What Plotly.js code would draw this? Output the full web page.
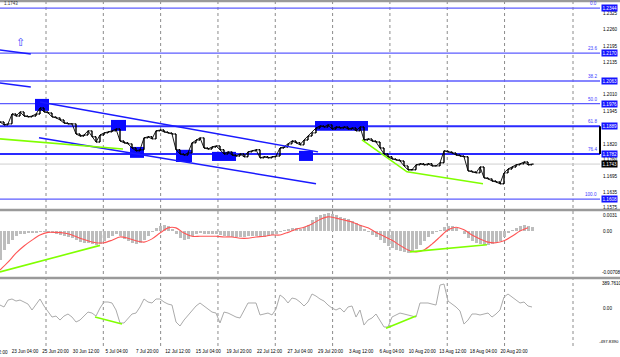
<!DOCTYPE html>
<html><head><meta charset="utf-8">
<script src="https://cdn.plot.ly/plotly-3.0.1.min.js"></script>
<style>html,body{margin:0;padding:0;background:#fff;overflow:hidden}#chart{width:620px;height:357px}</style>
</head><body><div id="chart"></div>
<script>
// ---- data (H4 bars sampled, index = candle number) ----
const closes = [1.1905,1.1894,1.1898,1.1936,1.1928,1.1944,1.1928,1.1925,1.1928,1.1936,
 1.1959,1.1944,1.1940,1.1925,1.1921,1.1913,1.1901,1.1898,1.1898,1.1859,
 1.1851,1.1855,1.1871,1.1848,1.1828,1.1855,1.1863,1.1867,1.1871,1.1878,
 1.1832,1.1825,1.1821,1.1805,1.1794,1.1798,1.1844,1.1848,1.1840,1.1871,
 1.1874,1.1867,1.1863,1.1859,1.1798,1.1782,1.1778,1.1786,1.1825,1.1836,
 1.1844,1.1805,1.1801,1.1809,1.1813,1.1798,1.1782,1.1790,1.1778,1.1774,
 1.1782,1.1771,1.1790,1.1794,1.1798,1.1767,1.1771,1.1767,1.1771,1.1774,
 1.1805,1.1809,1.1821,1.1832,1.1825,1.1817,1.1836,1.1851,1.1863,1.1882,
 1.1890,1.1886,1.1894,1.1878,1.1886,1.1882,1.1886,1.1878,1.1882,1.1871,
 1.1886,1.1836,1.1840,1.1832,1.1828,1.1805,1.1782,1.1771,1.1763,1.1759,
 1.1755,1.1736,1.1721,1.1721,1.1740,1.1744,1.1740,1.1744,1.1736,1.1736,
 1.1748,1.1794,1.1790,1.1786,1.1778,1.1774,1.1771,1.1717,1.1713,1.1709,
 1.1732,1.1690,1.1686,1.1678,1.1674,1.1667,1.1709,1.1724,1.1732,1.1740,
 1.1744,1.1751,1.1740,1.1743];

const macdHist = [-0.0045,-0.0029,-0.0020,-0.0014,-0.0008,-0.0005,-0.0005,-0.0003,-0.0003,-0.0003,
 -0.0002,-0.0002,-0.0002,-0.0003,-0.0005,-0.0006,-0.0008,-0.0009,-0.0011,-0.0014,
 -0.0017,-0.0018,-0.0018,-0.0020,-0.0022,-0.0020,-0.0015,-0.0011,-0.0008,-0.0005,
 -0.0008,-0.0012,-0.0015,-0.0018,-0.0020,-0.0018,-0.0014,-0.0008,-0.0002,0.0005,
 0.0008,0.0009,0.0008,0.0003,-0.0005,-0.0011,-0.0014,-0.0012,-0.0008,-0.0005,
 -0.0003,-0.0005,-0.0005,-0.0005,-0.0005,-0.0006,-0.0008,-0.0008,-0.0009,-0.0009,
 -0.0009,-0.0009,-0.0008,-0.0008,-0.0008,-0.0009,-0.0009,-0.0008,-0.0006,-0.0005,
 -0.0002,0.0002,0.0003,0.0005,0.0005,0.0003,0.0006,0.0009,0.0017,0.0022,
 0.0025,0.0026,0.0028,0.0026,0.0025,0.0022,0.0020,0.0018,0.0015,0.0012,
 0.0009,0.0003,-0.0002,-0.0006,-0.0009,-0.0014,-0.0018,-0.0023,-0.0026,-0.0029,
 -0.0031,-0.0032,-0.0034,-0.0032,-0.0028,-0.0022,-0.0015,-0.0009,-0.0005,-0.0002,
 0.0002,0.0006,0.0008,0.0008,0.0005,0.0000,-0.0005,-0.0011,-0.0015,-0.0018,
 -0.0020,-0.0022,-0.0022,-0.0020,-0.0018,-0.0015,-0.0009,-0.0003,0.0002,0.0005,
 0.0008,0.0009,0.0008,0.0006];

// signal line, one value every second candle
const macdSignal = [-0.0060,-0.0048,-0.0034,-0.0023,-0.0014,-0.0006,-0.0002,-0.0002,-0.0003,-0.0006,
 -0.0011,-0.0015,-0.0018,-0.0018,-0.0014,-0.0009,-0.0011,-0.0015,-0.0017,-0.0012,
 -0.0003,0.0005,0.0005,-0.0003,-0.0008,-0.0008,-0.0008,-0.0008,-0.0009,-0.0009,
 -0.0011,-0.0011,-0.0009,-0.0008,-0.0006,-0.0006,-0.0002,0.0003,0.0006,0.0011,
 0.0018,0.0022,0.0020,0.0017,0.0014,0.0009,0.0005,-0.0002,-0.0008,-0.0014,
 -0.0022,-0.0029,-0.0032,-0.0029,-0.0020,-0.0009,0.0002,0.0006,0.0002,-0.0006,
 -0.0012,-0.0017,-0.0018,-0.0015,-0.0008,0.0000,0.0005];

const cci = [45,19,111,125,98,111,85,58,-21,58,
 125,32,-48,-114,-101,-154,-101,-74,-114,-180,
 -154,-101,-48,-61,-101,5,85,85,72,-21,
 -193,-193,-127,-74,-61,19,125,85,72,125,
 125,85,58,45,-180,-233,-154,-87,-21,32,
 72,32,-8,-48,-61,-193,-48,-61,-87,-114,
 -127,-21,72,72,72,-87,-74,-61,-87,-8,
 178,138,72,138,125,85,32,85,191,164,
 125,98,45,5,-21,5,-48,19,32,-114,
 -21,-220,-154,-127,-74,-154,-246,-246,-114,-87,
 -61,-74,-87,-101,-114,72,72,72,58,45,
 310,323,98,58,19,-34,-207,-154,-74,-74,
 -87,-74,-61,-114,-74,-21,151,191,151,111,
 72,85,32,19];

const timeLabels = ["23 Jun 04:00","25 Jun 20:00","30 Jun 12:00","5 Jul 04:00","7 Jul 20:00","12 Jul 12:00",
 "15 Jul 04:00","19 Jul 20:00","22 Jul 12:00","27 Jul 04:00","29 Jul 20:00","3 Aug 12:00","6 Aug 04:00",
 "10 Aug 20:00","13 Aug 12:00","18 Aug 04:00","20 Aug 20:00"];
const cutLabel = "18 Jun 12:00";

const fibLevels = ["0.0","23.6","38.2","50.0","61.8","76.4","100.0"];
const fibPrices = [1.2344,1.2170,1.2063,1.1976,1.1889,1.1782,1.1608];
const priceTicks = [1.2325,1.2260,1.2195,1.2135,1.2065,1.2010,1.1945,1.1885,1.1820,1.1760,1.1695,1.1635,1.1575];
const lastPrice = 1.1743;
const macdMax = 0.0031, macdMin = -0.00708;
const cciMax = 389.7610, cciMin = -497.8390;

// rectangles (candle index / price)
const zoneStart = [8.75,27.75,32.5,44,53,74.75,78.75];
const zoneEnd   = [12.25,31.5,36,48,59,78.25,92];
const zoneLow   = [1.1948,1.1871,1.1767,1.1751,1.1755,1.1755,1.1871];
const zoneHigh  = [1.1994,1.1913,1.1809,1.1798,1.1790,1.1794,1.1909];

// trend lines
const chanUpX = [10,79.5], chanUpY = [1.1982,1.1790];
const chanLoX = [9.75,79], chanLoY = [1.1844,1.1667];
const oldAX = [-1,7.7], oldAY = [1.2184,1.2167];
const oldBX = [-1,7.7], oldBY = [1.2057,1.2040];
const greenP1X = [0,30.75], greenP1Y = [1.1840,1.1801];
const greenP2X = [90.5,101.75,120.75], greenP2Y = [1.1836,1.1713,1.1667];
const greenM1X = [0,25], greenM1Y = [-0.0063,-0.0022];
const greenM2X = [102.5,121.75], greenM2Y = [-0.0032,-0.0021];
const greenC1X = [23.75,30.5], greenC1Y = [-114,-207];
const greenC2X = [96.5,104], greenC2Y = [-262,-101];
const arrowX = 5.1, arrowY = 1.2213;

// ---- build ----
const idx = closes.map((_, i) => i);
const opens = closes.map((c, i) => i === 0 ? c : closes[i-1]);
const highs = closes.map((c, i) => Math.max(c, opens[i]));
const lows = closes.map((c, i) => Math.min(c, opens[i]));
const sigX = macdSignal.map((_, k) => 2*k);

const xRange = [0, 150];
const tickStart = 6.25, tickStep = 7.64;
const tickVals = timeLabels.map((_, k) => tickStart + k*tickStep);
const gridVals = [];
for (let k = 0; k < 9; k++) gridVals.push(11.5 + k*14.33);
gridVals.push(143.25);

const BLUE = '#1a1aff', GREEN = '#80ff00';
const traces = [
 {type:'scatter', mode:'lines', x:idx, y:closes, line:{color:'#000', width:0.9}, xaxis:'x', yaxis:'y', hoverinfo:'skip'},
 {type:'ohlc', x:idx, open:opens, high:highs, low:lows, close:closes, xaxis:'x', yaxis:'y',
  increasing:{line:{color:'#000', width:1.4}}, decreasing:{line:{color:'#000', width:1.4}}, tickwidth:0.4, hoverinfo:'skip'},
 {type:'scatter', mode:'lines', x:chanUpX, y:chanUpY, line:{color:BLUE, width:1.5}, xaxis:'x', yaxis:'y'},
 {type:'scatter', mode:'lines', x:chanLoX, y:chanLoY, line:{color:BLUE, width:1.5}, xaxis:'x', yaxis:'y'},
 {type:'scatter', mode:'lines', x:oldAX, y:oldAY, line:{color:BLUE, width:1.5}, xaxis:'x', yaxis:'y'},
 {type:'scatter', mode:'lines', x:oldBX, y:oldBY, line:{color:BLUE, width:1.5}, xaxis:'x', yaxis:'y'},
 {type:'scatter', mode:'lines', x:greenP1X, y:greenP1Y, line:{color:GREEN, width:1.6}, xaxis:'x', yaxis:'y'},
 {type:'scatter', mode:'lines', x:greenP2X, y:greenP2Y, line:{color:GREEN, width:1.6}, xaxis:'x', yaxis:'y'},
 {type:'bar', x:idx, y:macdHist, width:0.75, marker:{color:'#bdbdbd', line:{width:0}}, xaxis:'x2', yaxis:'y2'},
 {type:'scatter', mode:'lines', x:sigX, y:macdSignal, line:{color:'#ff5555', width:1.1, shape:'spline', smoothing:0.8}, xaxis:'x2', yaxis:'y2'},
 {type:'scatter', mode:'lines', x:greenM1X, y:greenM1Y, line:{color:GREEN, width:1.6}, xaxis:'x2', yaxis:'y2'},
 {type:'scatter', mode:'lines', x:greenM2X, y:greenM2Y, line:{color:GREEN, width:1.6}, xaxis:'x2', yaxis:'y2'},
 {type:'scatter', mode:'lines', x:idx, y:cci, line:{color:'#ababab', width:1}, xaxis:'x3', yaxis:'y3'},
 {type:'scatter', mode:'lines', x:greenC1X, y:greenC1Y, line:{color:GREEN, width:1.6}, xaxis:'x3', yaxis:'y3'},
 {type:'scatter', mode:'lines', x:greenC2X, y:greenC2Y, line:{color:GREEN, width:1.6}, xaxis:'x3', yaxis:'y3'}
];

const shapes = [];
gridVals.forEach(v => shapes.push({type:'line', xref:'x', yref:'paper', x0:v, x1:v, y0:0, y1:0.997,
  line:{color:'#8c8c8c', width:1, dash:'dot'}, layer:'below'}));
zoneStart.forEach((s, i) => shapes.push({type:'rect', xref:'x', yref:'y', x0:s, x1:zoneEnd[i], y0:zoneLow[i], y1:zoneHigh[i],
  fillcolor:'#0a0aff', line:{width:0}, layer:'below'}));
fibPrices.forEach((p, i) => {
  const strong = (i === 4 || i === 5);
  shapes.push({type:'line', xref:'paper', yref:'y', x0:0, x1:1, y0:p, y1:p,
    line:{color: strong ? '#2a2aff' : '#5c5cff', width: strong ? 2 : 1.3}, layer:'below'});
});
shapes.push({type:'line', xref:'paper', yref:'y', x0:0, x1:1, y0:lastPrice, y1:lastPrice, line:{color:'#cfcfcf', width:1}, layer:'below'});
shapes.push({type:'line', xref:'paper', yref:'y', x0:1, x1:1, y0:fibPrices[5], y1:fibPrices[4], line:{color:'#000', width:2}});
[0.997, 0.3931, 0.1965].forEach(y => shapes.push({type:'line', xref:'paper', yref:'paper', x0:0, x1:1.04, y0:y, y1:y,
  line:{color:'#9a9a9a', width:2.5}}));

const F = 'Liberation Sans, Arial, sans-serif';
const SZ = 4.6;
const annotations = [];
fibPrices.forEach((p, i) => {
  annotations.push({xref:'paper', yref:'y', x:0.998, y:p, xanchor:'right', yanchor:'bottom', text:fibLevels[i],
    showarrow:false, font:{family:F, size:SZ, color:'#3c3cff'}});
  annotations.push({xref:'paper', yref:'y', x:1, y:p, xanchor:'left', yanchor:'middle', xshift:1, text:p.toFixed(4),
    showarrow:false, bgcolor:'#1414ff', borderpad:0.5, font:{family:F, size:SZ, color:'#fff'}});
});
annotations.push({xref:'paper', yref:'y', x:1, y:lastPrice, xanchor:'left', yanchor:'middle', xshift:1, text:lastPrice.toFixed(4),
  showarrow:false, bgcolor:'#000', borderpad:0.5, font:{family:F, size:SZ, color:'#fff'}});
annotations.push({xref:'paper', yref:'y2', x:1, y:macdMax, xanchor:'left', yanchor:'top', xshift:1, text:String(macdMax),
  showarrow:false, font:{family:F, size:SZ, color:'#000'}});
annotations.push({xref:'paper', yref:'y2', x:1, y:macdMin, xanchor:'left', yanchor:'bottom', xshift:0, text:String(macdMin),
  showarrow:false, font:{family:F, size:SZ, color:'#000'}});
annotations.push({xref:'paper', yref:'y3', x:1, y:cciMax, xanchor:'left', yanchor:'top', xshift:0, text:cciMax.toFixed(4),
  showarrow:false, font:{family:F, size:SZ, color:'#000'}});
annotations.push({xref:'paper', yref:'y3', x:1, y:cciMin, xanchor:'left', yanchor:'bottom', xshift:-3, text:cciMin.toFixed(4),
  showarrow:false, font:{family:F, size:4.3, color:'#000'}});
annotations.push({xref:'paper', yref:'paper', x:(tickStart - tickStep - xRange[0])/(xRange[1]-xRange[0]), y:0, yanchor:'top', yshift:-2,
  xanchor:'center', text:cutLabel, showarrow:false, font:{family:F, size:4.6, color:'#000'}});
annotations.push({xref:'paper', yref:'paper', x:0.004, y:0.99, xanchor:'left', yanchor:'middle', text:lastPrice.toFixed(4),
  showarrow:false, font:{family:F, size:4.5, color:'#333'}});
annotations.push({xref:'x', yref:'y', x:arrowX, y:arrowY, text:'⇧', showarrow:false,
  font:{family:'DejaVu Sans', size:11, color:'#3a3aff'}});

const axBase = {range:xRange, showgrid:false, zeroline:false, showline:false, ticks:'', fixedrange:true};
const layout = {
  width:620, height:357, margin:{l:0, r:20, t:0, b:11},
  paper_bgcolor:'#fff', plot_bgcolor:'#fff', showlegend:false, bargap:0,
  font:{family:F, size:5, color:'#000'},
  xaxis: Object.assign({}, axBase, {anchor:'y', showticklabels:false, rangeslider:{visible:false}}),
  xaxis2: Object.assign({}, axBase, {anchor:'y2', showticklabels:false}),
  xaxis3: Object.assign({}, axBase, {anchor:'y3', tickvals:tickVals, ticktext:timeLabels, tickangle:0,
    tickfont:{family:F, size:4.6, color:'#000'}, ticklabelstandoff:1}),
  yaxis: {domain:[0.396,0.994], range:[1.1570,1.2367], side:'right', tickvals:priceTicks, tickformat:'.4f',
    showgrid:false, zeroline:false, ticks:'', tickfont:{family:F, size:SZ}, ticklabelstandoff:2, fixedrange:true},
  yaxis2: {domain:[0.1994,0.3902], range:[macdMin, macdMax], side:'right', tickvals:[0], ticktext:['0.00'],
    showgrid:false, zeroline:false, ticks:'', tickfont:{family:F, size:SZ}, ticklabelstandoff:2, fixedrange:true},
  yaxis3: {domain:[0,0.1936], range:[cciMin, cciMax], side:'right', tickvals:[0], ticktext:['0.00'],
    showgrid:false, zeroline:false, ticks:'', tickfont:{family:F, size:SZ}, ticklabelstandoff:2, fixedrange:true},
  shapes: shapes, annotations: annotations
};
Plotly.newPlot('chart', traces, layout, {staticPlot:true, displayModeBar:false});
</script></body></html>
